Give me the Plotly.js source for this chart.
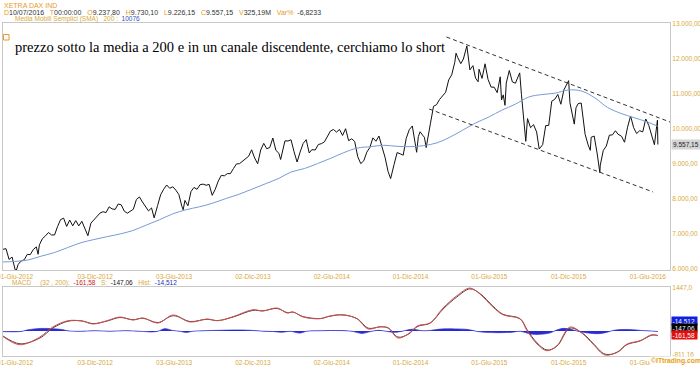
<!DOCTYPE html>
<html><head><meta charset="utf-8">
<script src="https://cdn.plot.ly/plotly-3.0.1.min.js"></script>
<style>html,body{margin:0;padding:0;background:#fff;}#chart{width:700px;height:365px;}</style>
</head><body><div id="chart"></div>
<script>
// ---- price (DAX) closes ----
const d2012 = ['2012-05-04','2012-05-11','2012-05-18','2012-05-25','2012-06-01','2012-06-04','2012-06-08','2012-06-15','2012-06-22','2012-06-29','2012-07-06','2012-07-13','2012-07-20','2012-07-24','2012-07-27','2012-08-03','2012-08-10','2012-08-17','2012-08-24','2012-08-31','2012-09-07','2012-09-14','2012-09-21','2012-09-28','2012-10-05','2012-10-12','2012-10-19','2012-10-26','2012-11-02','2012-11-09','2012-11-16','2012-11-23','2012-11-30','2012-12-07','2012-12-14','2012-12-21','2012-12-28'];
const p2012 = [6561,6579,6271,6340,5978,5969,6130,6229,6263,6416,6410,6557,6630,6419,6689,6865,6945,7041,6972,6971,7214,7412,7451,7216,7398,7232,7381,7231,7363,7163,6950,7309,7405,7517,7597,7636,7612];
const d2013 = ['2013-01-04','2013-01-11','2013-01-18','2013-01-25','2013-02-01','2013-02-08','2013-02-15','2013-02-22','2013-03-01','2013-03-08','2013-03-15','2013-03-22','2013-03-28','2013-04-05','2013-04-12','2013-04-18','2013-04-26','2013-05-03','2013-05-10','2013-05-17','2013-05-24','2013-05-31','2013-06-07','2013-06-14','2013-06-21','2013-06-24','2013-06-28','2013-07-05','2013-07-12','2013-07-19','2013-07-26','2013-08-02','2013-08-09','2013-08-16','2013-08-23','2013-08-30','2013-09-06','2013-09-13','2013-09-20','2013-09-27','2013-10-04','2013-10-11','2013-10-18','2013-10-25','2013-11-01','2013-11-08','2013-11-15','2013-11-22','2013-11-29','2013-12-06','2013-12-13','2013-12-20','2013-12-27'];
const p2013 = [7776,7715,7702,7857,7833,7652,7593,7661,7708,7986,8058,7913,7795,7658,7744,7460,7814,8122,8279,8399,8305,8349,8255,8128,7790,7692,7959,7806,8212,8331,8276,8409,8425,8392,8416,8104,8275,8510,8675,8661,8725,8725,8868,9001,9009,9078,9168,9220,9405,9172,9006,9400,9589];
const d2014 = ['2014-01-03','2014-01-10','2014-01-17','2014-01-24','2014-01-31','2014-02-04','2014-02-07','2014-02-14','2014-02-21','2014-02-28','2014-03-07','2014-03-14','2014-03-21','2014-03-28','2014-04-04','2014-04-11','2014-04-17','2014-04-25','2014-05-02','2014-05-09','2014-05-16','2014-05-23','2014-05-30','2014-06-06','2014-06-13','2014-06-20','2014-06-27','2014-07-04','2014-07-11','2014-07-18','2014-07-25','2014-08-01','2014-08-08','2014-08-15','2014-08-22','2014-08-29','2014-09-05','2014-09-12','2014-09-19','2014-09-26','2014-10-03','2014-10-10','2014-10-16','2014-10-24','2014-10-31','2014-11-07','2014-11-14','2014-11-21','2014-11-28','2014-12-05','2014-12-12','2014-12-15','2014-12-19','2014-12-23','2014-12-30'];
const p2014 = [9435,9473,9742,9392,9306,9128,9290,9662,9656,9692,9350,9056,9342,9587,9695,9315,9409,9401,9556,9581,9630,9768,9943,9987,9912,9987,9815,10009,9666,9720,9644,9210,9010,9092,9339,9470,9747,9651,9799,9490,9195,8788,8582,8988,9326,9291,9252,9732,9980,10087,9594,9335,9787,9922,9805];
const d2015 = ['2015-01-02','2015-01-06','2015-01-09','2015-01-16','2015-01-23','2015-01-30','2015-02-06','2015-02-13','2015-02-20','2015-02-27','2015-03-06','2015-03-13','2015-03-16','2015-03-20','2015-03-27','2015-04-02','2015-04-10','2015-04-17','2015-04-24','2015-04-30','2015-05-06','2015-05-08','2015-05-15','2015-05-22','2015-05-29','2015-06-05','2015-06-12','2015-06-19','2015-06-26','2015-06-29','2015-07-03','2015-07-07','2015-07-10','2015-07-17','2015-07-24','2015-07-31','2015-08-07','2015-08-10','2015-08-14','2015-08-21','2015-08-24','2015-08-28','2015-09-04','2015-09-11','2015-09-18','2015-09-24','2015-10-02','2015-10-09','2015-10-16','2015-10-23','2015-10-30','2015-11-06','2015-11-13','2015-11-20','2015-11-27','2015-12-01','2015-12-04','2015-12-11','2015-12-14','2015-12-18','2015-12-23','2015-12-30'];
const p2015 = [9765,9470,9648,10167,10649,10694,10846,10963,11050,11401,11550,11901,12168,12039,11868,12001,12374,11689,11811,11454,11350,11709,11447,11864,11413,11197,11196,11040,11492,10832,10976,10677,11315,11673,11347,11309,11490,11604,10985,10124,9648,10298,10038,10123,9916,9428,9553,10096,10104,10795,10850,10988,10708,11119,11293,11382,10752,10340,10139,10608,10727,10743];
const d2016 = ['2016-01-08','2016-01-15','2016-01-20','2016-01-22','2016-01-29','2016-02-05','2016-02-11','2016-02-12','2016-02-19','2016-02-26','2016-03-04','2016-03-11','2016-03-18','2016-03-24','2016-04-01','2016-04-08','2016-04-15','2016-04-22','2016-04-29','2016-05-06','2016-05-13','2016-05-20','2016-05-27','2016-06-03','2016-06-10','2016-06-16','2016-06-23','2016-06-24'];
const p2016 = [9849,9545,9391,9764,9798,9286,8752,8967,9388,9513,9824,9831,9950,9851,9794,9622,10051,10373,10039,9870,9952,9917,10287,10103,9834,9550,10257,9557];

// ---- 200-period simple moving average ----
const smaDates = ['2012-05-04','2012-05-31','2012-06-30','2012-07-31','2012-08-31','2012-09-30','2012-10-31','2012-11-30','2012-12-31','2013-01-31','2013-02-28','2013-03-31','2013-04-30','2013-05-31','2013-06-30','2013-07-31','2013-08-31','2013-09-30','2013-10-31','2013-11-30','2013-12-31','2014-01-31','2014-02-28','2014-03-31','2014-04-30','2014-05-31','2014-06-30','2014-07-31','2014-08-31','2014-09-30','2014-10-31','2014-11-30','2014-12-31','2015-01-31','2015-02-28','2015-03-31','2015-04-30','2015-05-31','2015-06-30','2015-07-31','2015-08-31','2015-09-30','2015-10-31','2015-11-30','2015-12-31','2016-01-31','2016-02-29','2016-03-31','2016-04-30','2016-05-31','2016-06-24'];
const smaValues = [6200,6215,6255,6365,6470,6610,6750,6840,6925,7005,7100,7255,7405,7575,7690,7775,7880,8010,8135,8280,8435,8590,8770,8870,9010,9165,9325,9455,9495,9535,9505,9495,9525,9605,9755,9965,10170,10345,10540,10710,10915,10985,11025,11115,11085,10885,10615,10445,10325,10200,10076];

// ---- descending channel (dashed) ----
const chanUpperDates = ['2015-02-22','2016-07-22'];
const chanUpperVals = [12629,10200];
const chanLowerDates = ['2015-01-13','2016-06-13'];
const chanLowerVals = [10571,8200];

// ---- MACD (32,200) and signal ----
const macdDates = ['2012-05-04','2012-06-12','2012-07-28','2012-08-27','2012-10-01','2012-11-02','2012-11-28','2012-12-30','2013-01-29','2013-02-28','2013-03-23','2013-04-27','2013-06-01','2013-07-10','2013-08-18','2013-09-12','2013-10-17','2013-12-02','2013-12-25','2014-01-27','2014-02-19','2014-03-05','2014-03-28','2014-05-06','2014-05-29','2014-06-28','2014-07-31','2014-08-25','2014-09-22','2014-10-10','2014-11-02','2014-11-25','2014-12-18','2015-01-15','2015-02-14','2015-03-18','2015-04-17','2015-05-10','2015-06-09','2015-07-02','2015-08-11','2015-08-27','2015-09-19','2015-10-12','2015-11-04','2015-12-04','2016-01-03','2016-01-26','2016-02-23','2016-03-22','2016-04-14','2016-05-14','2016-06-10','2016-06-24'];
const macdValues = [-185,-462,-202,135,347,337,236,347,472,371,438,270,539,303,404,347,482,718,674,775,607,640,472,415,506,549,404,67,145,101,-236,-101,179,270,775,1190,1447,1247,809,549,404,10,-438,-664,-495,135,-101,-438,-809,-708,-438,-327,-125,-161.58];
const signalValues = [-170,-430,-240,100,330,340,250,335,455,380,430,285,515,320,395,352,470,695,680,760,620,635,485,420,500,540,415,95,140,108,-205,-115,160,262,740,1150,1420,1265,840,565,415,45,-400,-640,-510,95,-85,-410,-780,-720,-455,-335,-140,-147.06];

// ---- MACD histogram ----
const histDates = ['2012-05-04','2012-06-01','2012-06-17','2012-07-01','2012-07-29','2012-08-25','2012-09-17','2012-10-01','2012-10-29','2012-12-03','2013-01-06','2013-02-10','2013-03-17','2013-04-13','2013-04-27','2013-05-13','2013-05-30','2013-06-17','2013-07-01','2013-07-15','2013-08-14','2013-09-18','2013-10-22','2013-11-25','2013-12-24','2014-01-16','2014-02-08','2014-02-26','2014-03-21','2014-04-04','2014-05-06','2014-06-22','2014-07-19','2014-08-11','2014-08-30','2014-09-17','2014-10-06','2014-10-25','2014-11-12','2014-12-05','2014-12-28','2015-01-16','2015-02-08','2015-03-14','2015-04-13','2015-05-02','2015-05-23','2015-06-26','2015-07-24','2015-08-11','2015-09-04','2015-09-27','2015-10-20','2015-11-03','2015-11-19','2015-12-05','2015-12-23','2016-01-16','2016-02-08','2016-02-28','2016-03-13','2016-04-03','2016-04-26','2016-05-15','2016-06-02','2016-06-24'];
const histValues = [-20,-25,-10,40,85,80,50,5,-10,10,-8,12,-10,-30,-5,80,20,-10,-50,-10,10,25,35,25,-5,-15,-40,-10,-70,-10,10,15,-10,-80,-20,25,-10,-45,-5,60,10,20,65,70,50,-10,-45,-55,-40,-10,-100,-110,-60,30,90,60,-10,-70,-90,-40,20,50,45,20,5,-14.512];

// ---- axis ticks ----
const dateTicks = ['2012-06-01','2012-12-03','2013-06-03','2013-12-02','2014-06-02','2014-12-01','2015-06-01','2015-12-01','2016-06-01'];
const dateTickText = ['01-Giu-2012','03-Dic-2012','03-Giu-2013','02-Dic-2013','02-Giu-2014','01-Dic-2014','01-Giu-2015','01-Dic-2015','01-Giu-2016'];
const priceTicks = [6000,7000,8000,9000,10000,11000,12000,13000];
const macdTicks = [1447,-811.16];
const macdTickText = ['1447,0','-811,16'];

const priceDates = d2012.concat(d2013, d2014, d2015, d2016);
const priceClose = p2012.concat(p2013, p2014, p2015, p2016);

// ---- layout helpers (pixel -> paper) ----
const W = 700, H = 365, L = 3, R = 670, T = 23, B = 356;
const px = x => (x - L) / (R - L);
const py = y => (B - y) / (B - T);

const gold = '#d9a93c';
const orange = '#e89a2a';
const sans = 'Liberation Sans, Arial, sans-serif';

const traces = [
  {x: priceDates, y: priceClose, type: 'scatter', mode: 'lines', line: {color: '#111', width: 1}, xaxis: 'x', yaxis: 'y', hoverinfo: 'skip'},
  {x: smaDates, y: smaValues, type: 'scatter', mode: 'lines', line: {color: '#7a9ad6', width: 1, shape: 'spline'}, xaxis: 'x', yaxis: 'y', hoverinfo: 'skip'},
  {x: chanUpperDates, y: chanUpperVals, type: 'scatter', mode: 'lines', line: {color: '#333', width: 1, dash: '4px,3px'}, xaxis: 'x', yaxis: 'y', hoverinfo: 'skip'},
  {x: chanLowerDates, y: chanLowerVals, type: 'scatter', mode: 'lines', line: {color: '#333', width: 1, dash: '4px,3px'}, xaxis: 'x', yaxis: 'y', hoverinfo: 'skip'},
  {x: histDates, y: histValues, type: 'scatter', mode: 'lines', fill: 'tozeroy', fillcolor: '#2a2ad0', line: {color: '#2a2ad0', width: 0.7, shape: 'spline'}, xaxis: 'x2', yaxis: 'y2', hoverinfo: 'skip'},
  {x: macdDates, y: signalValues, type: 'scatter', mode: 'lines', line: {color: '#5a3a3a', width: 1, shape: 'spline'}, xaxis: 'x2', yaxis: 'y2', hoverinfo: 'skip'},
  {x: macdDates, y: macdValues, type: 'scatter', mode: 'lines', line: {color: '#d05050', width: 1, shape: 'spline'}, xaxis: 'x2', yaxis: 'y2', hoverinfo: 'skip'}
];

const xRange = ['2012-05-04', '2016-07-22'];
const tickFont = {family: sans, size: 6.5, color: gold};

const layout = {
  width: W, height: H,
  margin: {l: L, r: W - R, t: T, b: H - B, pad: 0},
  paper_bgcolor: '#fff', plot_bgcolor: '#fff',
  showlegend: false,
  separators: ',.',
  xaxis: {domain: [0, 1], anchor: 'y', type: 'date', range: xRange, tickvals: dateTicks, ticktext: dateTickText, tickfont: tickFont, ticks: '', ticklabeloverflow: 'allow', showgrid: false, zeroline: false, showline: true, mirror: true, linecolor: '#c8c8c8', linewidth: 1, fixedrange: true},
  yaxis: {domain: [py(270), 1], anchor: 'x', side: 'right', range: [5970, 13030], tickvals: priceTicks, tickformat: ',.2f', tickfont: tickFont, ticks: '', showgrid: false, zeroline: false, showline: true, mirror: true, linecolor: '#c8c8c8', linewidth: 1, fixedrange: true},
  xaxis2: {domain: [0, 1], anchor: 'y2', type: 'date', range: xRange, tickvals: dateTicks, ticktext: dateTickText, tickfont: tickFont, ticks: '', ticklabeloverflow: 'allow', showgrid: false, zeroline: false, showline: true, mirror: true, linecolor: '#c8c8c8', linewidth: 1, fixedrange: true},
  yaxis2: {domain: [0, py(287)], anchor: 'x2', side: 'right', range: [-842, 1483], tickvals: macdTicks, ticktext: macdTickText, tickfont: tickFont, ticks: '', showgrid: false, zeroline: false, showline: true, mirror: true, linecolor: '#c8c8c8', linewidth: 1, fixedrange: true},
  shapes: [
    {type: 'rect', xref: 'paper', yref: 'paper', x0: px(3.5), x1: px(9), y0: py(40), y1: py(34.5), line: {color: orange, width: 1}}
  ],
  annotations: [
    {xref: 'paper', yref: 'paper', x: px(2), y: py(5), xanchor: 'left', yanchor: 'middle', showarrow: false, text: 'XETRA DAX IND', font: {family: sans, size: 7, color: orange}},
    {xref: 'paper', yref: 'paper', x: px(2), y: py(12.5), xanchor: 'left', yanchor: 'middle', showarrow: false,
      text: '<span style="color:' + orange + '">D</span>10/07/2016   <span style="color:' + orange + '">T</span>00:00:00   <span style="color:' + orange + '">O</span>9.237,80   <span style="color:' + orange + '">H</span>9.730,10   <span style="color:' + orange + '">L</span>9.226,15   <span style="color:' + orange + '">C</span>9.557,15   <span style="color:' + orange + '">V</span>325,19M   <span style="color:' + orange + '">Var%</span>  -6,8233',
      font: {family: sans, size: 7, color: '#333'}},
    {xref: 'paper', yref: 'paper', x: px(13), y: py(19), xanchor: 'left', yanchor: 'middle', showarrow: false,
      text: '<span style="color:' + gold + '">Media Mobili Semplici (SMA)   200 :</span>  <span style="color:#3050c0">10076</span>',
      font: {family: sans, size: 6.5, color: gold}},
    {xref: 'paper', yref: 'paper', x: px(13), y: py(47), xanchor: 'left', yanchor: 'middle', showarrow: false,
      text: 'prezzo sotto la media a 200 e in un canale discendente, cerchiamo lo short',
      font: {family: 'Liberation Serif, Times New Roman, serif', size: 14.5, color: '#000'}},
    {xref: 'paper', yref: 'y', x: px(671), y: 9557.15, xanchor: 'left', yanchor: 'middle', showarrow: false, text: '9.557,15', bgcolor: '#d4d4d4', borderpad: 1, font: {family: sans, size: 6.5, color: '#222'}},
    {xref: 'paper', yref: 'paper', x: px(10), y: py(283), xanchor: 'left', yanchor: 'middle', showarrow: false,
      text: '<span style="color:' + gold + '">MACD     (32 , 200):</span>  <span style="color:#d02020">-161,58</span>   <span style="color:' + gold + '">S:</span>  <span style="color:#111">-147,06</span>   <span style="color:' + gold + '">Hist:</span>  <span style="color:#2030c0">-14,512</span>',
      font: {family: sans, size: 6.5, color: gold}},
    {xref: 'paper', yref: 'paper', x: px(671), y: py(321), xanchor: 'left', yanchor: 'middle', showarrow: false, text: '-14,512 ', bgcolor: '#1020e0', borderpad: 0.5, font: {family: sans, size: 6.5, color: '#fff'}},
    {xref: 'paper', yref: 'paper', x: px(671), y: py(327.7), xanchor: 'left', yanchor: 'middle', showarrow: false, text: '-147,06 ', bgcolor: '#000', borderpad: 0.5, font: {family: sans, size: 6.5, color: '#fff'}},
    {xref: 'paper', yref: 'paper', x: px(671), y: py(334.5), xanchor: 'left', yanchor: 'middle', showarrow: false, text: '-161,58 ', bgcolor: '#e01010', borderpad: 0.5, font: {family: sans, size: 6.5, color: '#fff'}},
    {xref: 'paper', yref: 'paper', x: px(650), y: py(361.5), xanchor: 'left', yanchor: 'middle', showarrow: false, text: '<b>©ITtrading.com</b>', bgcolor: '#fff', borderpad: 0, font: {family: sans, size: 6.8, color: '#e8a010'}}
  ]
};

Plotly.newPlot('chart', traces, layout, {displayModeBar: false, staticPlot: true});
</script>
</body></html>
